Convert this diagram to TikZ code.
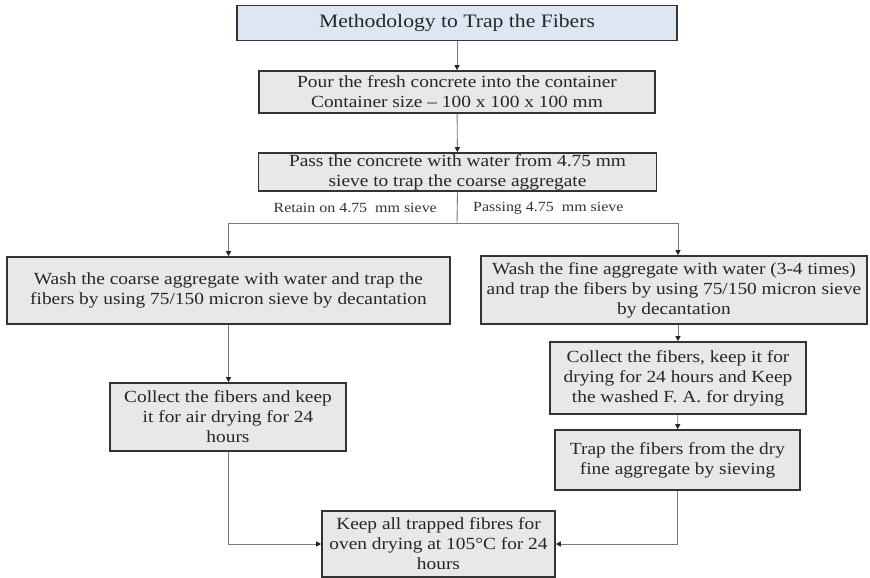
\documentclass[tikz,border=0pt]{standalone}
\usepackage{fontspec}
\setmainfont{Liberation Serif}[FakeStretch=1.14]
\usetikzlibrary{arrows.meta}
\definecolor{boxfill}{HTML}{E8E8E8}
\definecolor{titlefill}{HTML}{DDE7F3}
\definecolor{boxline}{HTML}{333333}
\definecolor{connline}{HTML}{7A7A7A}
\begin{document}
\begin{tikzpicture}[x=1pt,y=-1pt,
  stepbox/.style={draw=boxline,line width=1.6pt,fill=boxfill,align=center,
    inner sep=0pt,font=\fontsize{17}{20}\selectfont,text=black!85},
  titlebox/.style={stepbox,fill=titlefill,line width=1.2pt,font=\fontsize{19}{23}\selectfont},
  conn/.style={draw=connline,line width=0.9pt,
    -{Triangle[length=5pt,width=5pt,fill=black!85,color=black!85]}},
  plain/.style={draw=connline,line width=0.9pt},
  branchlabel/.style={font=\fontsize{14}{16}\selectfont,text=black!80,inner sep=0pt}]
\useasboundingbox (0,0) rectangle (870,578);

\node[titlebox,minimum width=440pt,minimum height=35pt] (t) at (457,23)
  {Methodology to Trap the Fibers};
\node[stepbox,minimum width=396pt,minimum height=42pt] (b2) at (457,92)
  {Pour the fresh concrete into the container\\Container size -- 100 x 100 x 100 mm};
\node[stepbox,minimum width=398pt,minimum height=38pt] (b3) at (457.5,172)
  {Pass the concrete with water from 4.75 mm\\sieve to trap the coarse aggregate};
\node[stepbox,minimum width=443pt,minimum height=67pt] (b4) at (228.5,290.5)
  {Wash the coarse aggregate with water and trap the\\fibers by using 75/150 micron sieve by decantation};
\node[stepbox,minimum width=386pt,minimum height=68pt] (b5) at (674,290)
  {Wash the fine aggregate with water (3-4 times)\\and trap the fibers by using 75/150 micron sieve\\by decantation};
\node[stepbox,minimum width=236pt,minimum height=68pt] (b9) at (228,417)
  {Collect the fibers and keep\\it for air drying for 24\\hours};
\node[stepbox,minimum width=256pt,minimum height=72pt] (b6) at (678,378)
  {Collect the fibers, keep it for\\drying for 24 hours and Keep\\the washed F. A. for drying};
\node[stepbox,minimum width=245pt,minimum height=60pt] (b7) at (677.5,460)
  {Trap the fibers from the dry\\fine aggregate by sieving};
\node[stepbox,minimum width=233pt,minimum height=66pt] (b8) at (438.5,544)
  {Keep all trapped fibres for\\oven drying at 105°C for 24\\hours};

% branch labels
\node[branchlabel,anchor=east] (lr) at (437,208) {Retain on 4.75\ \ mm sieve};
\node[branchlabel,anchor=west] (lp) at (473,208) {Passing 4.75\ \ mm sieve};

% connectors
\draw[conn] (t) -- (b2);
\draw[conn] (b2) -- (b3);
\coordinate (split) at (457,223);
\coordinate (rtop) at (678,223);
\draw[plain] (b3.south) -- (split);
\draw[conn] (split) -| (b4.north);
\draw[conn] (split) -- (rtop) -- (rtop |- b5.north);
\draw[conn] (b4.south) -- (b4.south |- b9.north);
\draw[conn] (b6.north |- b5.south) -- (b6.north);
\draw[conn] (b6) -- (b7);
\draw[conn] (b9.south) |- (b8.west);
\draw[conn] (b7.south) |- (b8.east);
\end{tikzpicture}
\end{document}
